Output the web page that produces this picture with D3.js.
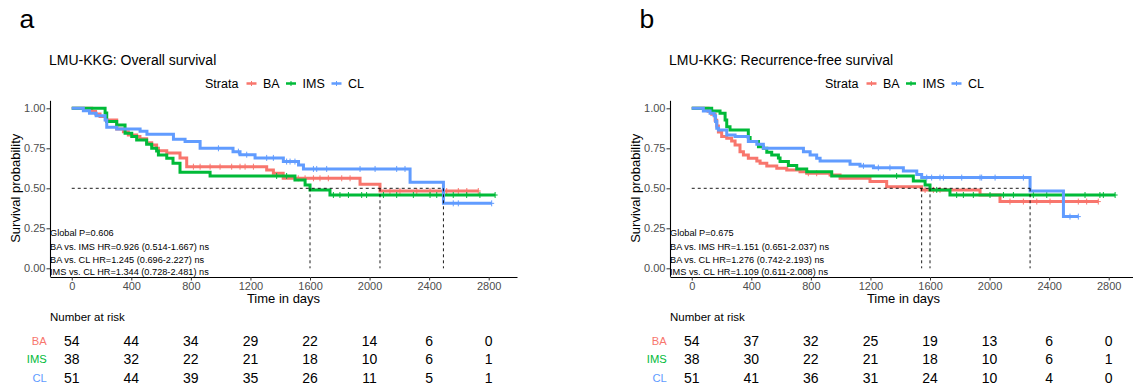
<!DOCTYPE html>
<html>
<head>
<meta charset="utf-8">
<script src="https://cdn.jsdelivr.net/npm/d3@7"></script>
<style>
body { margin: 0; background: #fff; }
svg { font-family: "Liberation Sans", Arial, sans-serif; }
</style>
</head>
<body>
<svg id="chart" width="1133" height="390"></svg>
<script>
var strata = ["BA", "IMS", "CL"];
var colors = ["#F8766D", "#00BA38", "#619CFF"];
var xTicks = [0, 400, 800, 1200, 1600, 2000, 2400, 2800];
var yTicks = [0, 0.25, 0.5, 0.75, 1];

// overall survival: [day, survival] steps, last follow-up, censor days
var osBA = [[0,1],[134,0.98],[160,0.965],[190,0.948],[230,0.927],[302,0.87],[347,0.854],[380,0.833],[436,0.823],[458,0.81],[503,0.785],[537,0.77],[570,0.75],[582,0.735],[638,0.72],[727,0.69],[772,0.635],[1309,0.615],[1354,0.594],[1420,0.5625],[1936,0.525],[2070,0.483]];
var osIMS = [[0,1],[224,0.97],[235,0.917],[302,0.896],[358,0.844],[403,0.823],[436,0.802],[503,0.775],[537,0.75],[570,0.733],[582,0.708],[638,0.688],[680,0.656],[727,0.6],[929,0.577],[1499,0.552],[1567,0.521],[1600,0.49],[1734,0.458]];
var osCL = [[0,1],[78,0.985],[119,0.969],[164,0.954],[224,0.927],[235,0.881],[302,0.871],[459,0.856],[505,0.838],[683,0.806],[761,0.792],[862,0.75],[1083,0.729],[1130,0.71],[1231,0.69],[1421,0.667],[1523,0.646],[1556,0.621],[2272,0.5375],[2496,0.406]];
var osEnd = [2730, 2843, 2820];
var osBACens = [817,862,929,996,1074,1130,1164,1220,1521,1567,1623,1667,1723,1813,1869,2137,2204,2317,2406,2518,2596,2653,2730];
var osIMSCens = [1376,1443,1757,1801,1858,1947,1980,2093,2182,2294,2406,2451,2562,2652,2741,2843];
var osCLCens = [985,1119,1175,1309,1354,1443,1466,1499,1623,1645,1712,1936,2037,2182,2238,2562,2596,2820];
var osRisk = [[54,44,34,29,22,14,6,0],[38,32,22,21,18,10,6,1],[51,44,39,35,26,11,5,1]];
var osStats = ["Global P=0.606", "BA vs. IMS HR=0.926 (0.514-1.667) ns", "BA vs. CL HR=1.245 (0.696-2.227) ns", "IMS vs. CL HR=1.344 (0.728-2.481) ns"];

// recurrence-free survival
var rfsBA = [[0,1],[110,0.981],[134,0.963],[157,0.926],[168,0.889],[179,0.852],[201,0.823],[235,0.813],[268,0.796],[291,0.771],[324,0.729],[347,0.708],[380,0.688],[437,0.671],[459,0.656],[504,0.64],[571,0.625],[638,0.615],[727,0.604],[772,0.594],[929,0.583],[996,0.5625],[1197,0.542],[1309,0.51],[1544,0.49],[1936,0.458],[2070,0.417]];
var rfsIMS = [[0,1],[134,0.983],[190,0.969],[224,0.927],[235,0.885],[257,0.865],[380,0.817],[392,0.792],[448,0.76],[481,0.75],[504,0.725],[537,0.708],[582,0.69],[593,0.667],[649,0.642],[705,0.621],[772,0.604],[940,0.577],[1488,0.546],[1567,0.52],[1600,0.49],[1734,0.458]];
var rfsCL = [[0,1],[78,0.983],[123,0.969],[150,0.954],[160,0.917],[168,0.875],[180,0.865],[235,0.833],[291,0.823],[380,0.792],[437,0.775],[481,0.75],[750,0.729],[795,0.708],[839,0.688],[862,0.67],[1063,0.65],[1130,0.64],[1220,0.629],[1421,0.608],[1511,0.587],[1544,0.567],[2272,0.483],[2496,0.323]];
var rfsEnd = [2730, 2843, 2596];
var rfsBACens = [783,839,1567,1623,1667,2137,2227,2317,2406,2496,2596,2652,2730];
var rfsIMSCens = [1376,1645,1779,1824,1891,2003,2093,2160,2294,2384,2496,2641,2741,2764,2843];
var rfsCLCens = [1153,1253,1331,1578,1611,1667,1690,1813,1936,1947,2037,2227,2540,2596];
var rfsRisk = [[54,37,32,25,19,13,6,0],[38,30,22,21,18,10,6,1],[51,41,36,31,24,10,4,0]];
var rfsStats = ["Global P=0.675", "BA vs. IMS HR=1.151 (0.651-2.037) ns", "BA vs. CL HR=1.276 (0.742-2.193) ns", "IMS vs. CL HR=1.109 (0.611-2.008) ns"];

var svg = d3.select("#chart");

function survAt(steps, t) {
  var s = 1;
  steps.forEach(function(p) { if (p[0] <= t) s = p[1]; });
  return s;
}

function drawPanel(dx, letter, title, curves, ends, cens, risk, stats) {
  var g = svg.append("g").attr("transform", "translate(" + dx + ",0)");
  var x = d3.scaleLinear().domain([-146, 2990]).range([50, 517]);
  var y = d3.scaleLinear().domain([-0.05, 1.05]).range([276.3, 100.3]);

  g.append("text").attr("x", 19.5).attr("y", 27.5).attr("font-size", 26.5).text(letter);
  g.append("text").attr("x", 49).attr("y", 65).attr("font-size", 14).text(title);

  // legend
  var leg = g.append("g").attr("font-size", 12.5);
  leg.append("text").attr("x", 205).attr("y", 83.5).attr("dy", "0.35em").text("Strata");
  var keyX = [246.5, 286, 331.5];
  strata.forEach(function(s, i) {
    leg.append("line").attr("x1", keyX[i]).attr("x2", keyX[i] + 10)
      .attr("y1", 83.5).attr("y2", 83.5).attr("stroke", colors[i]).attr("stroke-width", 2.5);
    leg.append("line").attr("x1", keyX[i] + 5).attr("x2", keyX[i] + 5)
      .attr("y1", 81).attr("y2", 86).attr("stroke", colors[i]).attr("stroke-width", 1);
    leg.append("text").attr("x", keyX[i] + 16.5).attr("y", 83.5).attr("dy", "0.35em").text(s);
  });

  // axes
  var yAx = g.append("g").attr("transform", "translate(50,0)")
    .call(d3.axisLeft(y).tickValues(yTicks).tickFormat(d3.format(".2f")).tickSize(3.5).tickSizeOuter(0).tickPadding(1));
  var xAx = g.append("g").attr("transform", "translate(0,277)")
    .call(d3.axisBottom(x).tickValues(xTicks).tickFormat(d3.format("d")).tickSize(3.5).tickSizeOuter(0).tickPadding(1.5));
  [yAx, xAx].forEach(function(a) {
    a.select(".domain").attr("stroke", "#000").attr("stroke-width", 1.1);
    a.selectAll(".tick line").attr("stroke", "#333");
    a.selectAll(".tick text").attr("fill", "#4D4D4D").attr("font-size", 11)
      .attr("font-family", "Liberation Sans, Arial, sans-serif");
  });

  g.append("text").attr("transform", "translate(15,188.3) rotate(-90)")
    .attr("text-anchor", "middle").attr("dy", "0.35em").attr("font-size", 13).text("Survival probability");
  g.append("text").attr("x", 283.5).attr("y", 298.5).attr("text-anchor", "middle")
    .attr("dy", "0.35em").attr("font-size", 13).text("Time in days");

  // curves
  var line = d3.line().x(function(d) { return x(d[0]); }).y(function(d) { return y(d[1]); })
    .curve(d3.curveStepAfter);
  curves.forEach(function(steps, i) {
    var pts = steps.concat([[ends[i], steps[steps.length - 1][1]]]);
    g.append("path").datum(pts).attr("d", line).attr("fill", "none")
      .attr("stroke", colors[i]).attr("stroke-width", 3);
    g.selectAll(null).data(cens[i]).enter().append("path")
      .attr("d", function(t) {
        var cx = x(t), cy = y(survAt(steps, t));
        return "M" + (cx - 2.5) + "," + cy + "H" + (cx + 2.5) + "M" + cx + "," + (cy - 3) + "V" + (cy + 3);
      })
      .attr("stroke", colors[i]).attr("stroke-width", 1);
  });

  // median lines
  var medians = curves.map(function(steps) {
    var m = steps.find(function(p) { return p[1] <= 0.5; });
    return m ? m[0] : null;
  }).filter(function(m) { return m !== null; });
  var dash = g.append("g").attr("stroke", "#000").attr("stroke-width", 0.9).attr("stroke-dasharray", "3,3");
  dash.append("line").attr("x1", x(0)).attr("x2", x(d3.max(medians)))
    .attr("y1", y(0.5)).attr("y2", y(0.5));
  medians.forEach(function(m) {
    dash.append("line").attr("x1", x(m)).attr("x2", x(m)).attr("y1", y(0.5)).attr("y2", y(0));
  });

  // stats
  var statY = [233, 246.5, 259.5, 272];
  stats.forEach(function(s, i) {
    g.append("text").attr("x", 50).attr("y", statY[i]).attr("dy", "0.35em")
      .attr("font-size", 9.2).text(s);
  });

  // risk table
  g.append("text").attr("x", 50).attr("y", 317.3).attr("dy", "0.35em").attr("font-size", 11.5).text("Number at risk");
  var rowY = [340.7, 359.3, 377.7];
  risk.forEach(function(row, i) {
    g.append("text").attr("x", 46.7).attr("y", rowY[i]).attr("dy", "0.35em")
      .attr("text-anchor", "end").attr("font-size", 11.2).attr("fill", colors[i]).text(strata[i]);
    g.selectAll(null).data(row).enter().append("text")
      .attr("x", function(d, j) { return x(xTicks[j]); })
      .attr("y", rowY[i]).attr("dy", "0.35em").attr("text-anchor", "middle")
      .attr("font-size", 14).text(function(d) { return d; });
  });
}

drawPanel(0, "a", "LMU-KKG: Overall survival", [osBA, osIMS, osCL], osEnd,
  [osBACens, osIMSCens, osCLCens], osRisk, osStats);
drawPanel(620, "b", "LMU-KKG: Recurrence-free survival", [rfsBA, rfsIMS, rfsCL], rfsEnd,
  [rfsBACens, rfsIMSCens, rfsCLCens], rfsRisk, rfsStats);
</script>
</body>
</html>
